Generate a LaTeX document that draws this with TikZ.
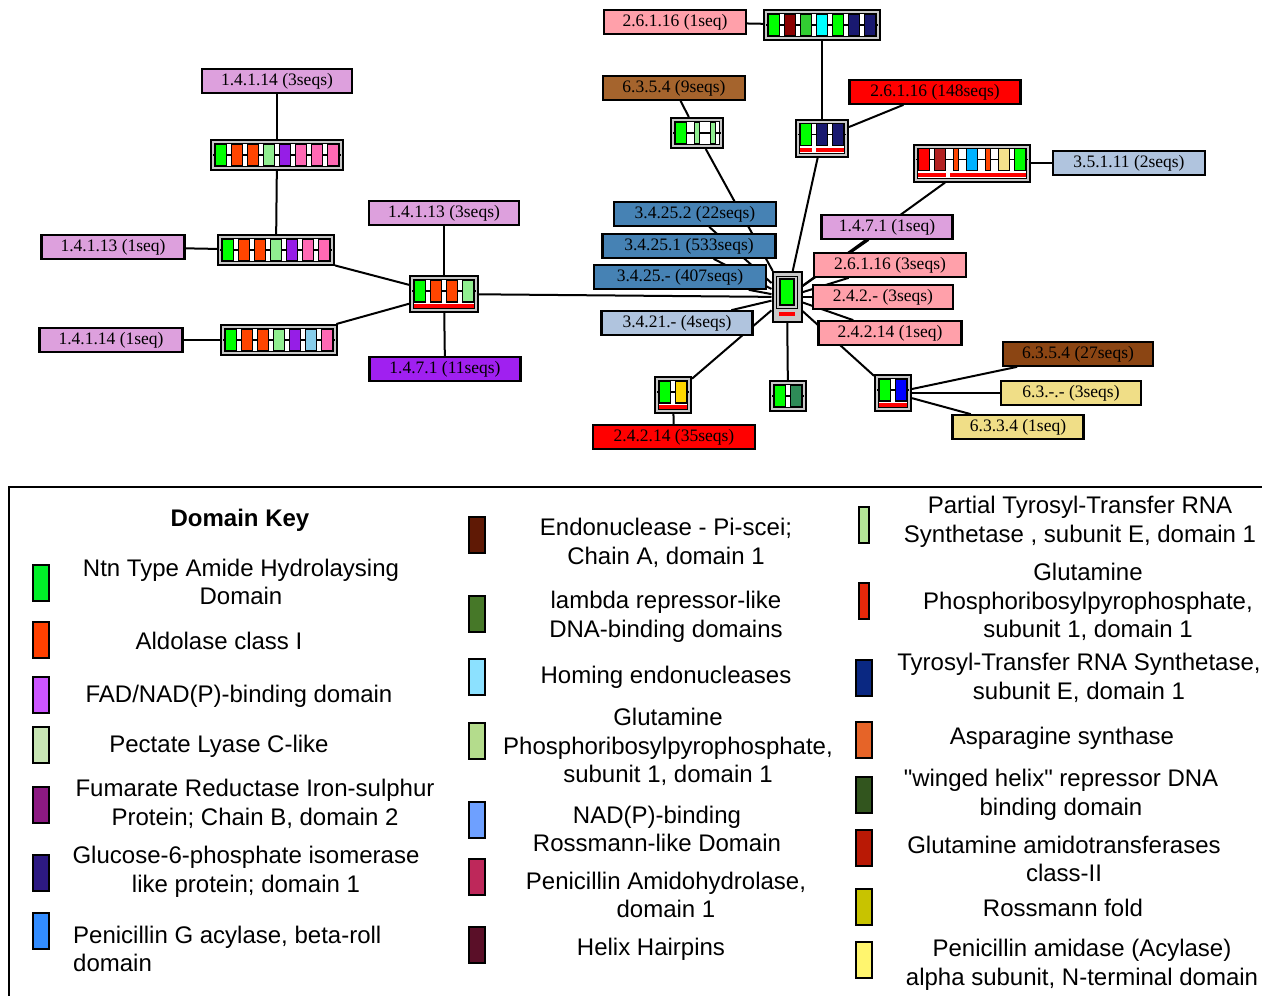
\documentclass[tikz,border=0pt]{standalone}
\usepackage{fontspec}
\setmainfont{Liberation Serif}
\newfontfamily\keyfont{Liberation Sans}
\usepackage{tikz}
\usetikzlibrary{backgrounds}

% label fills
\definecolor{ecplum}{RGB}{221,160,221}
\definecolor{ecpurple}{RGB}{160,32,240}
\definecolor{ecpink}{RGB}{255,160,170}
\definecolor{ecred}{RGB}{255,0,0}
\definecolor{ecsienna}{RGB}{165,100,45}
\definecolor{ecbrown}{RGB}{139,69,19}
\definecolor{eckhaki}{RGB}{240,222,135}
\definecolor{ecsteel}{RGB}{70,130,180}
\definecolor{eclsteel}{RGB}{176,196,222}
\definecolor{archgray}{RGB}{200,200,200}
% domains in the network
\definecolor{dgreen}{RGB}{0,255,0}
\definecolor{dorange}{RGB}{255,69,0}
\definecolor{dlgreen}{RGB}{144,238,144}
\definecolor{dviolet}{RGB}{150,30,230}
\definecolor{dpink}{RGB}{255,105,180}
\definecolor{dsky}{RGB}{135,206,235}
\definecolor{ddarkred}{RGB}{139,0,0}
\definecolor{dlime}{RGB}{50,205,50}
\definecolor{dcyan}{RGB}{0,255,255}
\definecolor{dnavy}{RGB}{25,25,112}
\definecolor{dred}{RGB}{255,0,0}
\definecolor{dfire}{RGB}{178,34,34}
\definecolor{ddeepsky}{RGB}{0,178,255}
\definecolor{dkhaki}{RGB}{245,225,140}
\definecolor{dgold}{RGB}{255,215,0}
\definecolor{dsea}{RGB}{46,139,87}
\definecolor{dblue}{RGB}{0,0,255}
% domain key
\definecolor{k1}{RGB}{0,240,40}
\definecolor{k2}{RGB}{255,64,0}
\definecolor{k3}{RGB}{204,85,255}
\definecolor{k4}{RGB}{200,230,180}
\definecolor{k5}{RGB}{140,25,130}
\definecolor{k6}{RGB}{45,25,130}
\definecolor{k7}{RGB}{50,140,255}
\definecolor{k8}{RGB}{95,25,5}
\definecolor{k9}{RGB}{70,120,40}
\definecolor{k10}{RGB}{140,225,255}
\definecolor{k11}{RGB}{180,220,140}
\definecolor{k12}{RGB}{110,160,255}
\definecolor{k13}{RGB}{190,40,90}
\definecolor{k14}{RGB}{90,15,40}
\definecolor{k15}{RGB}{180,230,150}
\definecolor{k16}{RGB}{230,40,10}
\definecolor{k17}{RGB}{10,40,130}
\definecolor{k18}{RGB}{230,100,40}
\definecolor{k19}{RGB}{50,85,30}
\definecolor{k20}{RGB}{185,25,5}
\definecolor{k21}{RGB}{200,195,0}
\definecolor{k22}{RGB}{255,245,110}

\newcommand{\ecfont}{\fontsize{17.5}{20}\selectfont}
\newcommand{\keytext}{\keyfont\fontsize{24}{28.5}\selectfont}

% name, x, y, number of domains, height, domains (colour/width)
\newcommand{\archrow}[6]{%
	\node[arch,minimum width={#4*16+4},minimum height=#5] (#1) at (#2,#3) {};
	\node[well,minimum width={#4*16-3},minimum height={#5-7}] at (#2,#3) {};
	\draw[backbone] ({#2-#4*8},{#3-(#5-30)/2}) -- ({#2+#4*8},{#3-(#5-30)/2});
	\foreach \c/\w [count=\i] in {#6}
		\node[dom,fill=\c,minimum width=\w] at ({#2+(\i-(#4+1)/2)*16},{#3-(#5-30)/2}) {};
}
% x, y, number of domains, first, last
\newcommand{\ulbar}[5]{%
	\fill[red] ({#1+(#4-(#3+1)/2)*16-6},{#2+10}) rectangle ({#1+(#5-(#3+1)/2)*16+6},{#2+13.5});
}

\begin{document}
\begin{tikzpicture}[x=1pt,y=-1pt]
	\tikzstyle{ec}=[rectangle,draw=black,line width=2.2pt,inner sep=0pt,minimum height=23.5pt,font=\ecfont]
	\tikzstyle{arch}=[rectangle,draw=black,line width=2pt,fill=archgray,inner sep=0pt]
	\tikzstyle{well}=[rectangle,draw=black,line width=0.9pt,fill=white,inner sep=0pt]
	\tikzstyle{dom}=[rectangle,draw=black,line width=1.3pt,inner sep=0pt,minimum height=22pt]
	\tikzstyle{backbone}=[line width=1.3pt]
	\tikzstyle{keybox}=[rectangle,draw=black,line width=2.2pt,inner sep=0pt,minimum width=16pt,minimum height=36pt]
	\tikzstyle{keylabel}=[align=center,font=\keytext,inner sep=0pt]
	\useasboundingbox (0,0) rectangle (1262,996);

	% left cluster
	\node[ec,fill=ecplum,minimum width=150]	(e1)	at (277,81)	{1.4.1.14 (3seqs)};
	\node[ec,fill=ecplum,minimum width=143]	(e2)	at (113,247)	{1.4.1.13 (1seq)};
	\node[ec,fill=ecplum,minimum width=143]	(e3)	at (111,340)	{1.4.1.14 (1seq)};
	\node[ec,fill=ecplum,minimum width=150]	(e4)	at (444,213)	{1.4.1.13 (3seqs)};
	\node[ec,fill=ecpurple,minimum width=151]	(e5)	at (445,369)	{1.4.7.1 (11seqs)};
	\archrow{a1}{277}{155}{8}{30}{dgreen/11,dorange/11,dorange/11,dlgreen/11,dviolet/11,dpink/11,dpink/11,dpink/11}
	\archrow{a2}{276}{250}{7}{30}{dgreen/11,dorange/11,dorange/11,dlgreen/11,dviolet/11,dpink/11,dpink/11}
	\archrow{a3}{279}{340}{7}{30}{dgreen/11,dorange/11,dorange/11,dlgreen/11,dviolet/11,dsky/11,dpink/11}
	\archrow{h1}{444}{294}{4}{36}{dgreen/11,dorange/11,dorange/11,dlgreen/11}
	\ulbar{444}{294}{4}{1}{4}

	% upper right
	\node[ec,fill=ecpink,minimum width=142]	(e6)	at (675,22)	{2.6.1.16 (1seq)};
	\node[ec,fill=ecsienna,minimum width=142]	(e7)	at (674,88)	{6.3.5.4 (9seqs)};
	\node[ec,fill=ecred,minimum width=171]	(e8)	at (935,92)	{2.6.1.16 (148seqs)};
	\node[ec,fill=eclsteel,minimum width=152]	(e9)	at (1129,163)	{3.5.1.11 (2seqs)};
	\archrow{t1}{822}{25}{7}{30}{dgreen/11,ddarkred/11,dlime/11,dcyan/11,dgreen/11,dnavy/11,dnavy/11}
	\archrow{t2}{697}{133}{3}{30}{dgreen/11,dlgreen/5,dlgreen/5}
	\archrow{t3}{822}{138}{3}{37}{dgreen/11,dnavy/11,dnavy/11}
	\ulbar{822}{138}{3}{1}{1}
	\ulbar{822}{138}{3}{2}{3}
	\archrow{t4}{972}{163}{7}{37}{dred/11,dfire/11,dorange/5,ddeepsky/11,dorange/5,dkhaki/11,dgreen/11}
	\ulbar{972}{163}{7}{1}{2}
	\ulbar{972}{163}{7}{3}{7}

	% central hub
	\node[ec,fill=ecsteel,minimum width=162]	(e10)	at (695,214)	{3.4.25.2 (22seqs)};
	\node[ec,fill=ecsteel,minimum width=173]	(e11)	at (689,246)	{3.4.25.1 (533seqs)};
	\node[ec,fill=ecsteel,minimum width=172]	(e12)	at (680,277)	{3.4.25.- (407seqs)};
	\node[ec,fill=eclsteel,minimum width=151]	(e13)	at (677,323)	{3.4.21.- (4seqs)};
	\node[ec,fill=ecplum,minimum width=131]	(e14)	at (887,227)	{1.4.7.1 (1seq)};
	\node[ec,fill=ecpink,minimum width=152]	(e15)	at (890,265)	{2.6.1.16 (3seqs)};
	\node[ec,fill=ecpink,minimum width=140]	(e16)	at (883,297)	{2.4.2.- (3seqs)};
	\node[ec,fill=ecpink,minimum width=143]	(e17)	at (890,333)	{2.4.2.14 (1seq)};
	\node[arch,minimum width=29,minimum height=50]	(c)	at (787,297)	{};
	\node[well,fill=archgray,minimum width=21,minimum height=32]	at (787,292)	{};
	\node[dom,fill=dgreen,minimum width=14,minimum height=26]	at (787,292)	{};
	\fill[red] (779,312) rectangle (795,316);

	% lower right
	\node[ec,fill=ecred,minimum width=162]	(e18)	at (674,437)	{2.4.2.14 (35seqs)};
	\node[ec,fill=ecbrown,minimum width=150]	(e19)	at (1078,354)	{6.3.5.4 (27seqs)};
	\node[ec,fill=eckhaki,minimum width=140]	(e20)	at (1071,393)	{6.3.-.- (3seqs)};
	\node[ec,fill=eckhaki,minimum width=131]	(e21)	at (1018,427)	{6.3.3.4 (1seq)};
	\archrow{b1}{673}{395}{2}{36}{dgreen/11,dgold/11}
	\ulbar{673}{395}{2}{1}{2}
	\archrow{b2}{788}{396}{2}{30}{dgreen/11,dsea/11}
	\archrow{b3}{893}{393}{2}{36}{dgreen/11,dblue/11}
	\ulbar{893}{393}{2}{1}{2}

	\begin{scope}[on background layer,every edge/.style={draw,line width=2pt}]
	\path
		(e1)	edge	(a1)
		(a1)	edge	(a2)
		(e2)	edge	(a2)
		(e3)	edge	(a3)
		(a2)	edge	(h1)
		(a3)	edge	(h1)
		(e4)	edge	(h1)
		(h1)	edge	(e5)
		(h1)	edge	(c)

		(e6)	edge	(t1)
		(t1)	edge	(t3)
		(t3)	edge	(e8)
		(t3)	edge	(c)
		(e7)	edge	(t2)
		(t2)	edge	(c)
		(t4)	edge	(e9)
		(t4)	edge	(c)

		(c)	edge	(e10)
		(c)	edge	(e11)
		(c)	edge	(e12)
		(c)	edge	(e13)
		(c)	edge	(e14)
		(c)	edge	(e15)
		(c)	edge	(e16)
		(c)	edge	(e17)

		(c)	edge	(b1)
		(b1)	edge	(e18)
		(c)	edge	(b2)
		(c)	edge	(b3)
		(b3)	edge	(e19)
		(b3)	edge	(e20)
		(b3)	edge	(e21);
	\end{scope}

	% domain key
	\draw[line width=2.5pt] (1262,487) -- (9,487) -- (9,996);
	\node[font=\keyfont\fontsize{24}{28}\selectfont\bfseries]	(kt)	at (240,520)	{Domain Key};

	\node[keybox,fill=k1]	(k1)	at (41,583)	{};
	\node[keybox,fill=k2]	(k2)	at (41,640)	{};
	\node[keybox,fill=k3]	(k3)	at (41,695)	{};
	\node[keybox,fill=k4]	(k4)	at (41,745)	{};
	\node[keybox,fill=k5]	(k5)	at (41,805)	{};
	\node[keybox,fill=k6]	(k6)	at (41,873)	{};
	\node[keybox,fill=k7]	(k7)	at (41,931)	{};
	\node[keylabel]	(l1)	at (241,582)	{Ntn Type Amide Hydrolaysing\\Domain};
	\node[keylabel]	(l2)	at (219,641)	{Aldolase class I};
	\node[keylabel]	(l3)	at (239,696)	{FAD/NAD(P)-binding domain};
	\node[keylabel]	(l4)	at (219,746)	{Pectate Lyase C-like};
	\node[keylabel]	(l5)	at (255,804)	{Fumarate Reductase Iron-sulphur\\Protein; Chain B, domain 2};
	\node[keylabel]	(l6)	at (246,872)	{Glucose-6-phosphate isomerase\\like protein; domain 1};
	\node[keylabel,align=left,anchor=west]	(l7)	at (73,949)	{Penicillin G acylase, beta-roll\\domain};

	\node[keybox,fill=k8]	(k8)	at (477,535)	{};
	\node[keybox,fill=k9]	(k9)	at (477,614)	{};
	\node[keybox,fill=k10]	(k10)	at (477,677)	{};
	\node[keybox,fill=k11]	(k11)	at (477,741)	{};
	\node[keybox,fill=k12]	(k12)	at (477,820)	{};
	\node[keybox,fill=k13]	(k13)	at (477,877)	{};
	\node[keybox,fill=k14]	(k14)	at (477,945)	{};
	\node[keylabel]	(l8)	at (666,543)	{Endonuclease - Pi-scei;\\Chain A, domain 1};
	\node[keylabel]	(l9)	at (666,617)	{lambda repressor-like\\DNA-binding domains};
	\node[keylabel]	(l10)	at (666,677)	{Homing endonucleases};
	\node[keylabel]	(l11)	at (668,747)	{Glutamine\\Phosphoribosylpyrophosphate,\\subunit 1, domain 1};
	\node[keylabel]	(l12)	at (657,829)	{NAD(P)-binding\\Rossmann-like Domain};
	\node[keylabel]	(l13)	at (666,895)	{Penicillin Amidohydrolase,\\domain 1};
	\node[keylabel]	(l14)	at (651,949)	{Helix Hairpins};

	\node[keybox,fill=k15,minimum width=10]	(k15)	at (864,525)	{};
	\node[keybox,fill=k16,minimum width=10]	(k16)	at (864,601)	{};
	\node[keybox,fill=k17]	(k17)	at (864,678)	{};
	\node[keybox,fill=k18]	(k18)	at (864,740)	{};
	\node[keybox,fill=k19]	(k19)	at (864,795)	{};
	\node[keybox,fill=k20]	(k20)	at (864,848)	{};
	\node[keybox,fill=k21]	(k21)	at (864,907)	{};
	\node[keybox,fill=k22]	(k22)	at (864,960)	{};
	\node[keylabel]	(l15)	at (1080,522)	{Partial Tyrosyl-Transfer RNA\\Synthetase , subunit E, domain 1};
	\node[keylabel]	(l16)	at (1088,602)	{Glutamine\\Phosphoribosylpyrophosphate,\\subunit 1, domain 1};
	\node[keylabel]	(l17)	at (1079,678)	{Tyrosyl-Transfer RNA Synthetase,\\subunit E, domain 1};
	\node[keylabel]	(l18)	at (1062,738)	{Asparagine synthase};
	\node[keylabel]	(l19)	at (1061,795)	{"winged helix" repressor DNA\\binding domain};
	\node[keylabel]	(l20)	at (1064,859)	{Glutamine amidotransferases\\class-II};
	\node[keylabel]	(l21)	at (1063,908)	{Rossmann fold};
	\node[keylabel]	(l22)	at (1082,965)	{Penicillin amidase (Acylase)\\alpha subunit, N-terminal domain};
\end{tikzpicture}
\end{document}
